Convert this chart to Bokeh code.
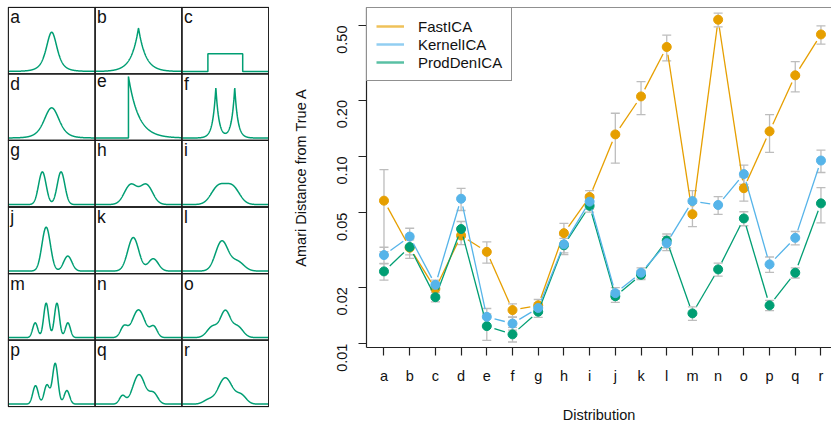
import math
import numpy as np
from bokeh.plotting import figure
from bokeh.models import Range1d, FixedTicker, CustomJSTickFormatter, Span, Legend, LegendItem
from bokeh.layouts import row, column
from bokeh.embed import file_html
from bokeh.resources import INLINE
from bokeh.core.properties import value

# ---------------- data ----------------
letters = list("abcdefghijklmnopqr")
y_ticks = [0.01, 0.02, 0.05, 0.10, 0.20, 0.50]

fast_mean = [0.058, 0.0325, 0.0196, 0.0378, 0.0309, 0.0151, 0.0160, 0.0389, 0.0607,
             0.131, 0.209, 0.384, 0.0491, 0.537, 0.0676, 0.136, 0.271, 0.448]
fast_se = [0.027, 0.004, 0.0015, 0.004, 0.004, 0.0012, 0.0012, 0.005, 0.005,
           0.039, 0.042, 0.060, 0.007, 0.045, 0.010, 0.031, 0.050, 0.050]
kern_mean = [0.0297, 0.0373, 0.0206, 0.0594, 0.0139, 0.0128, 0.0155, 0.0339, 0.0573,
             0.0186, 0.0239, 0.0344, 0.0577, 0.055, 0.0804, 0.0265, 0.0367, 0.095]
kern_se = [0.003, 0.004, 0.0012, 0.008, 0.0015, 0.001, 0.001, 0.004, 0.005,
           0.0013, 0.0015, 0.003, 0.008, 0.006, 0.0095, 0.0025, 0.003, 0.013]
prod_mean = [0.0243, 0.0328, 0.0177, 0.0409, 0.0124, 0.0112, 0.0148, 0.0335, 0.0544,
             0.0179, 0.0233, 0.0355, 0.0145, 0.0249, 0.0466, 0.0160, 0.0239, 0.0561]
prod_se = [0.0025, 0.003, 0.001, 0.004, 0.002, 0.001, 0.001, 0.003, 0.004,
           0.0013, 0.0013, 0.003, 0.0012, 0.002, 0.004, 0.001, 0.0015, 0.012]

series_names = ["FastICA", "KernelICA", "ProdDenICA"]
series_colors = ["#E69F00", "#56B4E9", "#009E73"]

# density components per panel: (kind, weight, location, scale, df)
densities = {
    "a": [("t", 1.0, 0.0, 0.577, 3)],
    "b": [("laplace", 1.0, 0.0, 0.707, 0)],
    "c": [("uniform", 1.0, 0.0, 1.732, 0)],
    "d": [("t", 1.0, 0.0, 0.775, 5)],
    "e": [("exp", 1.0, -1.0, 1.0, 0)],
    "f": [("laplace", 0.5, -0.94, 0.305, 0), ("laplace", 0.5, 0.94, 0.305, 0)],
    "g": [("norm", 0.5, -0.93, 0.376, 0), ("norm", 0.5, 0.93, 0.376, 0)],
    "h": [("norm", 0.5, -0.78, 0.626, 0), ("norm", 0.5, 0.78, 0.626, 0)],
    "i": [("norm", 0.5, -0.707, 0.707, 0), ("norm", 0.5, 0.707, 0.707, 0)],
    "j": [("norm", 0.75, -0.55, 0.42, 0), ("norm", 0.25, 1.6, 0.41, 0)],
    "k": [("norm", 0.75, -0.52, 0.55, 0), ("norm", 0.25, 1.47, 0.5, 0)],
    "l": [("norm", 0.75, -0.35, 0.62, 0), ("norm", 0.25, 1.2, 0.65, 0)],
    "m": [("norm", 0.15, -1.64, 0.25, 0), ("norm", 0.35, -0.55, 0.25, 0),
          ("norm", 0.35, 0.52, 0.25, 0), ("norm", 0.15, 1.61, 0.25, 0)],
    "n": [("norm", 0.15, -1.45, 0.35, 0), ("norm", 0.7, 0.0, 0.62, 0),
          ("norm", 0.15, 1.52, 0.35, 0)],
    "o": [("norm", 0.25, -1.25, 0.55, 0), ("norm", 0.5, 0.0, 0.48, 0),
          ("norm", 0.25, 1.2, 0.55, 0)],
    "p": [("norm", 0.203, -1.61, 0.27, 0), ("norm", 0.21, -0.48, 0.27, 0),
          ("norm", 0.447, 0.35, 0.27, 0), ("norm", 0.149, 1.51, 0.27, 0)],
    "q": [("norm", 0.10, -1.6, 0.3, 0), ("norm", 0.72, 0.05, 0.6, 0),
          ("norm", 0.18, 1.5, 0.42, 0)],
    "r": [("norm", 0.08, -1.7, 0.5, 0), ("norm", 0.75, 0.0, 0.7, 0),
          ("norm", 0.17, 1.6, 0.5, 0)],
}

# ---------------- density helpers ----------------
XLIM = 4.32


def comp_pdf(kind, w, m, s, df, x):
    z = (x - m) / s
    if kind == "norm":
        return w * np.exp(-0.5 * z * z) / (s * math.sqrt(2 * math.pi))
    if kind == "laplace":
        return w * np.exp(-np.abs(z)) / (2 * s)
    if kind == "t":
        c = math.gamma((df + 1) / 2) / (math.sqrt(df * math.pi) * math.gamma(df / 2))
        return w * c * (1 + z * z / df) ** (-(df + 1) / 2) / s
    if kind == "uniform":
        return np.where(np.abs(x - m) <= s + 1e-12, w / (2 * s), 0.0)
    if kind == "exp":
        return np.where(x >= m - 1e-12, w * np.exp(-np.clip(z, 0, None)) / s, 0.0)
    return np.zeros_like(x)


def density_curve(comps):
    xs = list(np.linspace(-XLIM, XLIM, 500))
    for kind, w, m, s, df in comps:
        if kind == "uniform":
            xs += [m - s - 1e-6, m - s, m + s, m + s + 1e-6]
        if kind == "exp":
            xs += [m - 1e-6, m]
    xs = np.array(sorted(xs))
    ys = np.zeros_like(xs)
    for c in comps:
        ys = ys + comp_pdf(*c, xs)
    return xs, ys


FONT = "Liberation Sans"

# ---------------- left panel grid ----------------
PW = 2 * XLIM
PH = 1.08
left = figure(width=269, height=425, output_backend="svg", toolbar_location=None,
              x_range=Range1d(-0.08, 3 * PW + 0.08), y_range=Range1d(-0.015, 6 * PH + 0.015),
              x_axis_location=None, y_axis_location=None,
              min_border_left=7, min_border_right=0, min_border_top=6, min_border_bottom=18)
left.outline_line_color = None
left.xgrid.visible = False
left.ygrid.visible = False

for idx, let in enumerate(letters):
    r, c = divmod(idx, 3)
    ox = c * PW + XLIM
    oy = (5 - r) * PH + 0.04
    xs, ys = density_curve(densities[let])
    left.line(xs + ox, ys + oy, line_color="#009E73", line_width=1.5)
    left.quad(left=c * PW, right=(c + 1) * PW, bottom=(5 - r) * PH, top=(6 - r) * PH,
              fill_color=None, line_color="#1a1a1a", line_width=1.3)
    left.text(x=[c * PW], y=[(6 - r) * PH], text=[let], x_offset=2, y_offset=0,
              text_baseline="top", text_align="left", text_font=value(FONT),
              text_font_size="17.5px", text_color="#111111")

# ---------------- right plot ----------------
FW, FH = 465, 345
X0, X1 = 0.32, 18.41
Y0, Y1 = 0.00953, 0.624
p = figure(width=562, height=425, output_backend="svg", toolbar_location=None,
           x_range=Range1d(X0, X1), y_range=Range1d(Y0, Y1), y_axis_type="log",
           min_border_left=97, min_border_right=0, min_border_top=7,
           min_border_bottom=425 - 7 - FH)
p.outline_line_color = None
p.xgrid.visible = False
p.ygrid.visible = False

for ax in (p.xaxis[0], p.yaxis[0]):
    ax.axis_line_color = "#222222"
    ax.axis_line_width = 1.2
    ax.major_tick_line_color = "#222222"
    ax.major_tick_line_width = 1.2
    ax.major_tick_in = 0
    ax.major_tick_out = 8
    ax.minor_tick_line_color = None
    ax.major_label_text_font = FONT
    ax.major_label_text_font_size = "14.5px"
    ax.major_label_text_color = "#111111"
    ax.axis_label_text_font = FONT
    ax.axis_label_text_font_size = "14.5px"
    ax.axis_label_text_font_style = "normal"
    ax.axis_label_text_color = "#111111"

p.yaxis.ticker = FixedTicker(ticks=y_ticks)
p.yaxis.formatter = CustomJSTickFormatter(code="return tick.toFixed(2);")
p.yaxis.major_label_orientation = math.pi / 2
p.yaxis.major_label_standoff = 16
p.yaxis.axis_label = "Amari Distance from True A"
p.yaxis.axis_label_standoff = 21

p.xaxis.ticker = FixedTicker(ticks=list(range(1, len(letters) + 1)))
p.xaxis.major_label_overrides = {i + 1: l for i, l in enumerate(letters)}
p.xaxis.major_label_standoff = 12
p.xaxis.axis_label = "Distribution"
p.xaxis.axis_label_standoff = 20

p.add_layout(Span(location=Y1, dimension="width", line_color="#222222", line_width=1.2))

xs_idx = list(range(1, len(letters) + 1))
means = [fast_mean, kern_mean, prod_mean]
ses = [fast_se, kern_se, prod_se]

# error bars
GRAY = "#BDBDBD"
for m, s in zip(means, ses):
    lo = [a - b for a, b in zip(m, s)]
    hi = [a + b for a, b in zip(m, s)]
    p.segment(x0=xs_idx, y0=lo, x1=xs_idx, y1=hi, line_color=GRAY, line_width=1.3)
    p.scatter(xs_idx, hi, marker="dash", size=9, line_color=GRAY, line_width=1.3)
    p.scatter(xs_idx, lo, marker="dash", size=9, line_color=GRAY, line_width=1.3)

sx = FW / (X1 - X0)
sy = FH / (math.log10(Y1) - math.log10(Y0))


def gapped(xv, yv, gap=8.0):
    a0, b0, a1, b1 = [], [], [], []
    for i in range(len(xv) - 1):
        px0, py0 = xv[i] * sx, math.log10(yv[i]) * sy
        px1, py1 = xv[i + 1] * sx, math.log10(yv[i + 1]) * sy
        dx, dy = px1 - px0, py1 - py0
        L = math.hypot(dx, dy)
        if L <= 2 * gap:
            continue
        ux, uy = dx / L, dy / L
        a0.append((px0 + gap * ux) / sx)
        b0.append(10 ** ((py0 + gap * uy) / sy))
        a1.append((px1 - gap * ux) / sx)
        b1.append(10 ** ((py1 - gap * uy) / sy))
    return a0, b0, a1, b1


# draw order: FastICA, ProdDenICA, KernelICA
for k in (0, 2, 1):
    a0, b0, a1, b1 = gapped(xs_idx, means[k])
    p.segment(x0=a0, y0=b0, x1=a1, y1=b1, line_color=series_colors[k], line_width=1.3)
    p.scatter(xs_idx, means[k], size=9, fill_color=series_colors[k],
              line_color=series_colors[k])

items = []
for name, col in zip(series_names, series_colors):
    r_ = p.line([X0 - 5, X0 - 4], [0.1, 0.1], line_color=col, line_width=2.5, line_alpha=0.65)
    items.append(LegendItem(label=name, renderers=[r_]))
legend = Legend(items=items, location="top_left", margin=0, padding=9, spacing=0,
                border_line_color="#222222", border_line_width=1.2,
                background_fill_color="white", background_fill_alpha=1.0,
                label_text_font=FONT, label_text_font_size="15px", label_text_color="#111111",
                glyph_width=28, glyph_height=18, label_height=18, label_standoff=14)
p.add_layout(legend)

layout = row(column(left), column(p))
open("out.html", "w").write(file_html(layout, INLINE))
